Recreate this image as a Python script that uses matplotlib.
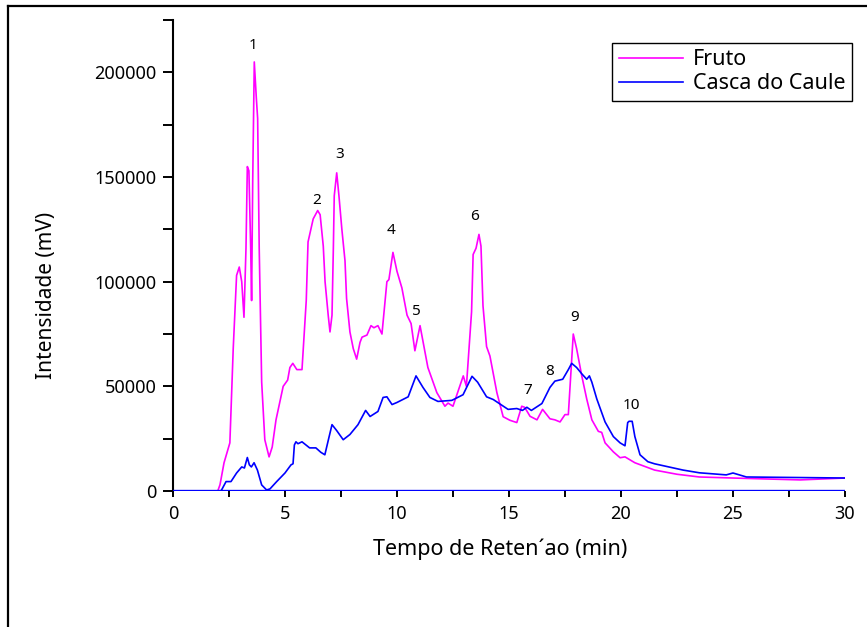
import numpy as np
import matplotlib.pyplot as plt
from matplotlib.ticker import MultipleLocator

plt.rcParams['font.family'] = ['Noto Sans', 'DejaVu Sans']

# Fruto (magenta)
t_fruto = [0, 2.0, 2.1, 2.28, 2.54, 2.69, 2.84, 2.96, 3.07, 3.17, 3.26, 3.32, 3.39, 3.47,
           3.51, 3.56, 3.63, 3.72, 3.78, 3.85, 3.96, 4.1, 4.29, 4.43, 4.6, 4.92, 5.12, 5.22,
           5.35, 5.53, 5.76, 5.95, 6.03, 6.26, 6.46, 6.57, 6.71, 6.79, 6.93, 7.01, 7.1, 7.16,
           7.2, 7.31, 7.41, 7.54, 7.68, 7.75, 7.9, 8.05, 8.2, 8.35, 8.44, 8.66, 8.84, 8.97,
           9.15, 9.33, 9.55, 9.64, 9.82, 10.0, 10.22, 10.45, 10.63, 10.8, 11.03, 11.38,
           11.78, 12.14, 12.28, 12.5, 12.96, 13.1, 13.33, 13.4, 13.53, 13.66, 13.75, 13.84,
           14.0, 14.15, 14.46, 14.74, 15.04, 15.35, 15.57, 15.7, 15.94, 16.25, 16.5, 16.83,
           17.05, 17.28, 17.5, 17.65, 17.87, 18.02, 18.25, 18.47, 18.7, 18.99, 19.14, 19.29,
           19.66, 19.96, 20.18, 20.62, 21.5, 22.5, 23.5, 25.0, 28.0, 30.0]
y_fruto = [0, 0, 3000, 13500, 23000, 68000, 103000, 107000, 100000, 83000, 116000, 155000,
           153000, 116000, 91000, 148000, 205000, 188000, 178000, 116000, 52000, 24500,
           16300, 21000, 34000, 50000, 53000, 59000, 61000, 58000, 58000, 91000, 119000,
           130000, 134000, 132000, 117000, 100000, 84000, 76000, 84000, 116000, 141000,
           152000, 141000, 125000, 110000, 92000, 76000, 68000, 63000, 71000, 73500, 74500,
           79000, 78000, 79000, 75000, 100000, 101000, 114000, 105000, 97000, 84000, 80000,
           67000, 79000, 59000, 47000, 40500, 42000, 40500, 55000, 50000, 85600, 113000,
           116000, 122600, 117000, 88500, 69000, 64500, 47000, 35500, 33800, 32700, 40500,
           40000, 35700, 34000, 39000, 34500, 34000, 33000, 36500, 36500, 75000, 68000,
           55000, 44000, 34000, 28500, 28000, 23000, 18700, 15900, 16300, 13500, 10000,
           8000, 6700, 6200, 5300, 6200]

# Casca do Caule (blue)
t_casca = [0, 2.12, 2.17, 2.37, 2.59, 2.84, 3.07, 3.19, 3.32, 3.41, 3.5, 3.62, 3.77, 3.96,
           4.18, 4.33, 4.63, 5.0, 5.27, 5.36, 5.42, 5.49, 5.58, 5.76, 6.1, 6.38, 6.6, 6.78,
           6.95, 7.1, 7.3, 7.6, 7.9, 8.26, 8.6, 8.8, 9.15, 9.38, 9.55, 9.78, 10.0, 10.5,
           10.85, 11.16, 11.47, 11.83, 12.45, 12.95, 13.35, 13.6, 14.0, 14.3, 14.96, 15.35,
           15.6, 15.8, 16.0, 16.47, 16.83, 17.05, 17.4, 17.65, 17.8, 18.02, 18.25, 18.47,
           18.59, 18.7, 18.92, 19.29, 19.66, 19.96, 20.18, 20.3, 20.36, 20.5, 20.62, 20.85,
           21.2, 21.5, 22.77, 23.5, 24.7, 25.0, 25.6, 30.0]
y_casca = [0, 0, 500, 4500, 4500, 8600, 11500, 11000, 16000, 12500, 11500, 13500, 10000,
           2900, 500, 1000, 4500, 8600, 12500, 13000, 22000, 23500, 22600, 23500, 20600,
           20600, 18500, 17300, 25000, 31700, 29000, 24500, 27000, 31700, 38500, 35600,
           38000, 44700, 45000, 41300, 42300, 45000, 55000, 49500, 44700, 42800, 43300,
           46000, 54800, 52000, 45000, 43700, 39000, 39400, 38500, 40000, 38500, 41800,
           49500, 52500, 53400, 58000, 61000, 59000, 56000, 53400, 55000, 52000, 44000,
           33000, 26000, 23000, 21600, 32700, 33300, 33300, 26000, 17300, 14000, 13000,
           10000, 8700, 7700, 8600, 6700, 6200]

peak_labels = ['1', '2', '3', '4', '5', '6', '7', '8', '9', '10']
peak_t = [3.57, 6.43, 7.46, 9.73, 10.85, 13.48, 15.85, 16.83, 17.95, 20.45]
peak_y = [213000, 139000, 160600, 124500, 85600, 131000, 48000, 57000, 82700, 40900]

fig = plt.figure(figsize=(8.67, 6.27), dpi=100)
ax = fig.add_axes([0.1995, 0.2169, 0.7751, 0.7511])

ax.plot(t_fruto, y_fruto, color='#FF00FF', lw=1.2, label='Fruto')
ax.plot(t_casca, y_casca, color='#0000FF', lw=1.2, label='Casca do Caule')
ax.axhline(0, color='#0000FF', lw=2.4, zorder=3)

for lab, tx, ty in zip(peak_labels, peak_t, peak_y):
    ax.text(tx, ty, lab, ha='center', va='center', fontsize=11)

ax.set_xlim(0, 30)
ax.set_ylim(0, 225000)
ax.xaxis.set_major_locator(MultipleLocator(5))
ax.xaxis.set_minor_locator(MultipleLocator(2.5))
ax.yaxis.set_major_locator(MultipleLocator(50000))
ax.yaxis.set_minor_locator(MultipleLocator(25000))
ax.tick_params(axis='x', which='both', length=4, width=1.4, pad=6, labelsize=13)
ax.tick_params(axis='y', which='both', length=7, width=1.4, pad=5, labelsize=13)
ax.spines['top'].set_visible(False)
ax.spines['right'].set_visible(False)
ax.spines['left'].set_linewidth(1.5)
ax.spines['bottom'].set_visible(False)
ax.set_xlabel('Tempo de Reten\u00b4ao (min)', fontsize=15.5)
ax.set_ylabel('Intensidade (mV)', fontsize=15)
ax.xaxis.set_label_coords(0.487, -0.100)
ax.yaxis.set_label_coords(-0.173, 0.4155)

leg = ax.legend(loc='upper right', bbox_to_anchor=(852 / 867, 1 - 43 / 627),
                bbox_transform=fig.transFigure, borderaxespad=0, fontsize=15.5,
                fancybox=False, edgecolor='black', framealpha=1,
                borderpad=0.3, handlelength=3.0, handletextpad=0.45, labelspacing=0.12)
leg.get_frame().set_linewidth(1.0)

# page frame (cropped figure border)
fig.add_artist(plt.Line2D([0.0098, 0.0098], [0, 0.991], color='black', lw=1.6))
fig.add_artist(plt.Line2D([0.0098, 1.0], [0.991, 0.991], color='black', lw=1.6))

fig.savefig('out.png', dpi=100)
